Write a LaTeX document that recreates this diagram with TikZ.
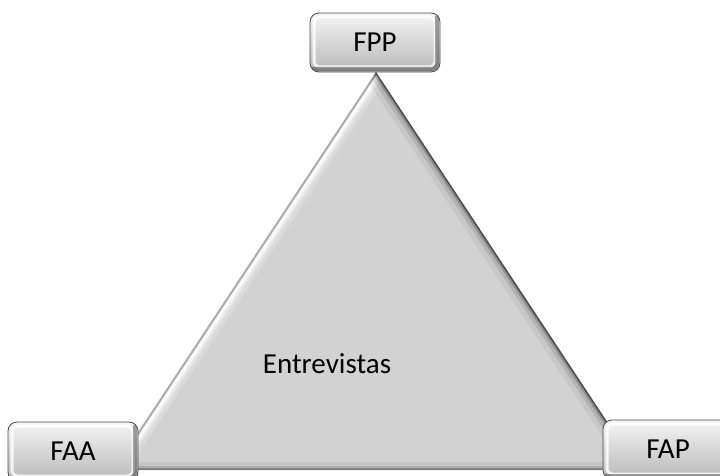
\documentclass[tikz,border=0pt]{standalone}
\usepackage{fontspec}
\setmainfont{Carlito}
\begin{document}
\begin{tikzpicture}[x=1pt,y=-1pt,
  lbl/.style={font=\fontsize{29}{34}\selectfont, text=black},
  beveledbox/.style={lbl, rounded corners=9pt, minimum width=130pt, minimum height=59pt,
    draw=gray!60!black, line width=0.8pt,
    top color=gray!8, middle color=gray!22, bottom color=gray!55,
    path picture={
      \draw[white, line width=3pt, opacity=0.8, rounded corners=6pt]
        ([shift={(4pt,-4pt)}]path picture bounding box.north west) rectangle
        ([shift={(-5pt,5pt)}]path picture bounding box.south east);
      \draw[gray!40!black, line width=4pt, opacity=0.45, rounded corners=6pt]
        ([shift={(2pt,3pt)}]path picture bounding box.south west) --
        ([shift={(-3pt,3pt)}]path picture bounding box.south east) --
        ([shift={(-3pt,-3pt)}]path picture bounding box.north east);
    }}
  ]
\useasboundingbox (0,0) rectangle (720,476);
\fill[white] (0,0) rectangle (720,476);
\coordinate (apex) at (376,72);
\coordinate (bl) at (113,470);
\coordinate (br) at (639,470);
% triangle
\begin{scope}
  \clip (apex) -- (bl) -- (br) -- cycle;
  \fill[gray!35] (apex) -- (bl) -- (br) -- cycle;
  % left highlight
  \draw[white, line width=24pt, opacity=0.2] (apex) -- (bl);
  \draw[white, line width=16pt, opacity=0.4] (apex) -- (bl);
  \draw[white, line width=11pt, opacity=0.8] (apex) -- (bl);
  \draw[gray!65, line width=4pt] (apex) -- (bl);
  % right shadow
  \draw[black, line width=24pt, opacity=0.05] (apex) -- (br);
  \draw[black, line width=14pt, opacity=0.10] (apex) -- (br);
  \draw[black, line width=7pt, opacity=0.2] (apex) -- (br);
  \draw[black, line width=3pt, opacity=0.45] (apex) -- (br);
  % bottom shadow
  \draw[black, line width=16pt, opacity=0.06] (bl) -- (br);
  \draw[black, line width=9pt, opacity=0.12] (bl) -- (br);
  \draw[black, line width=4pt, opacity=0.25] (bl) -- (br);
\end{scope}
\node[lbl] (ent) at (327,364) {Entrevistas};
\node[beveledbox] (fpp) at (375,42.5) {\raisebox{-2.5pt}{FPP}};
\node[beveledbox] (faa) at (73,451.5) {\raisebox{-2.5pt}{FAA}};
\node[beveledbox] (fap) at (668,449.5) {\raisebox{-3.5pt}{FAP}};
\end{tikzpicture}
\end{document}
